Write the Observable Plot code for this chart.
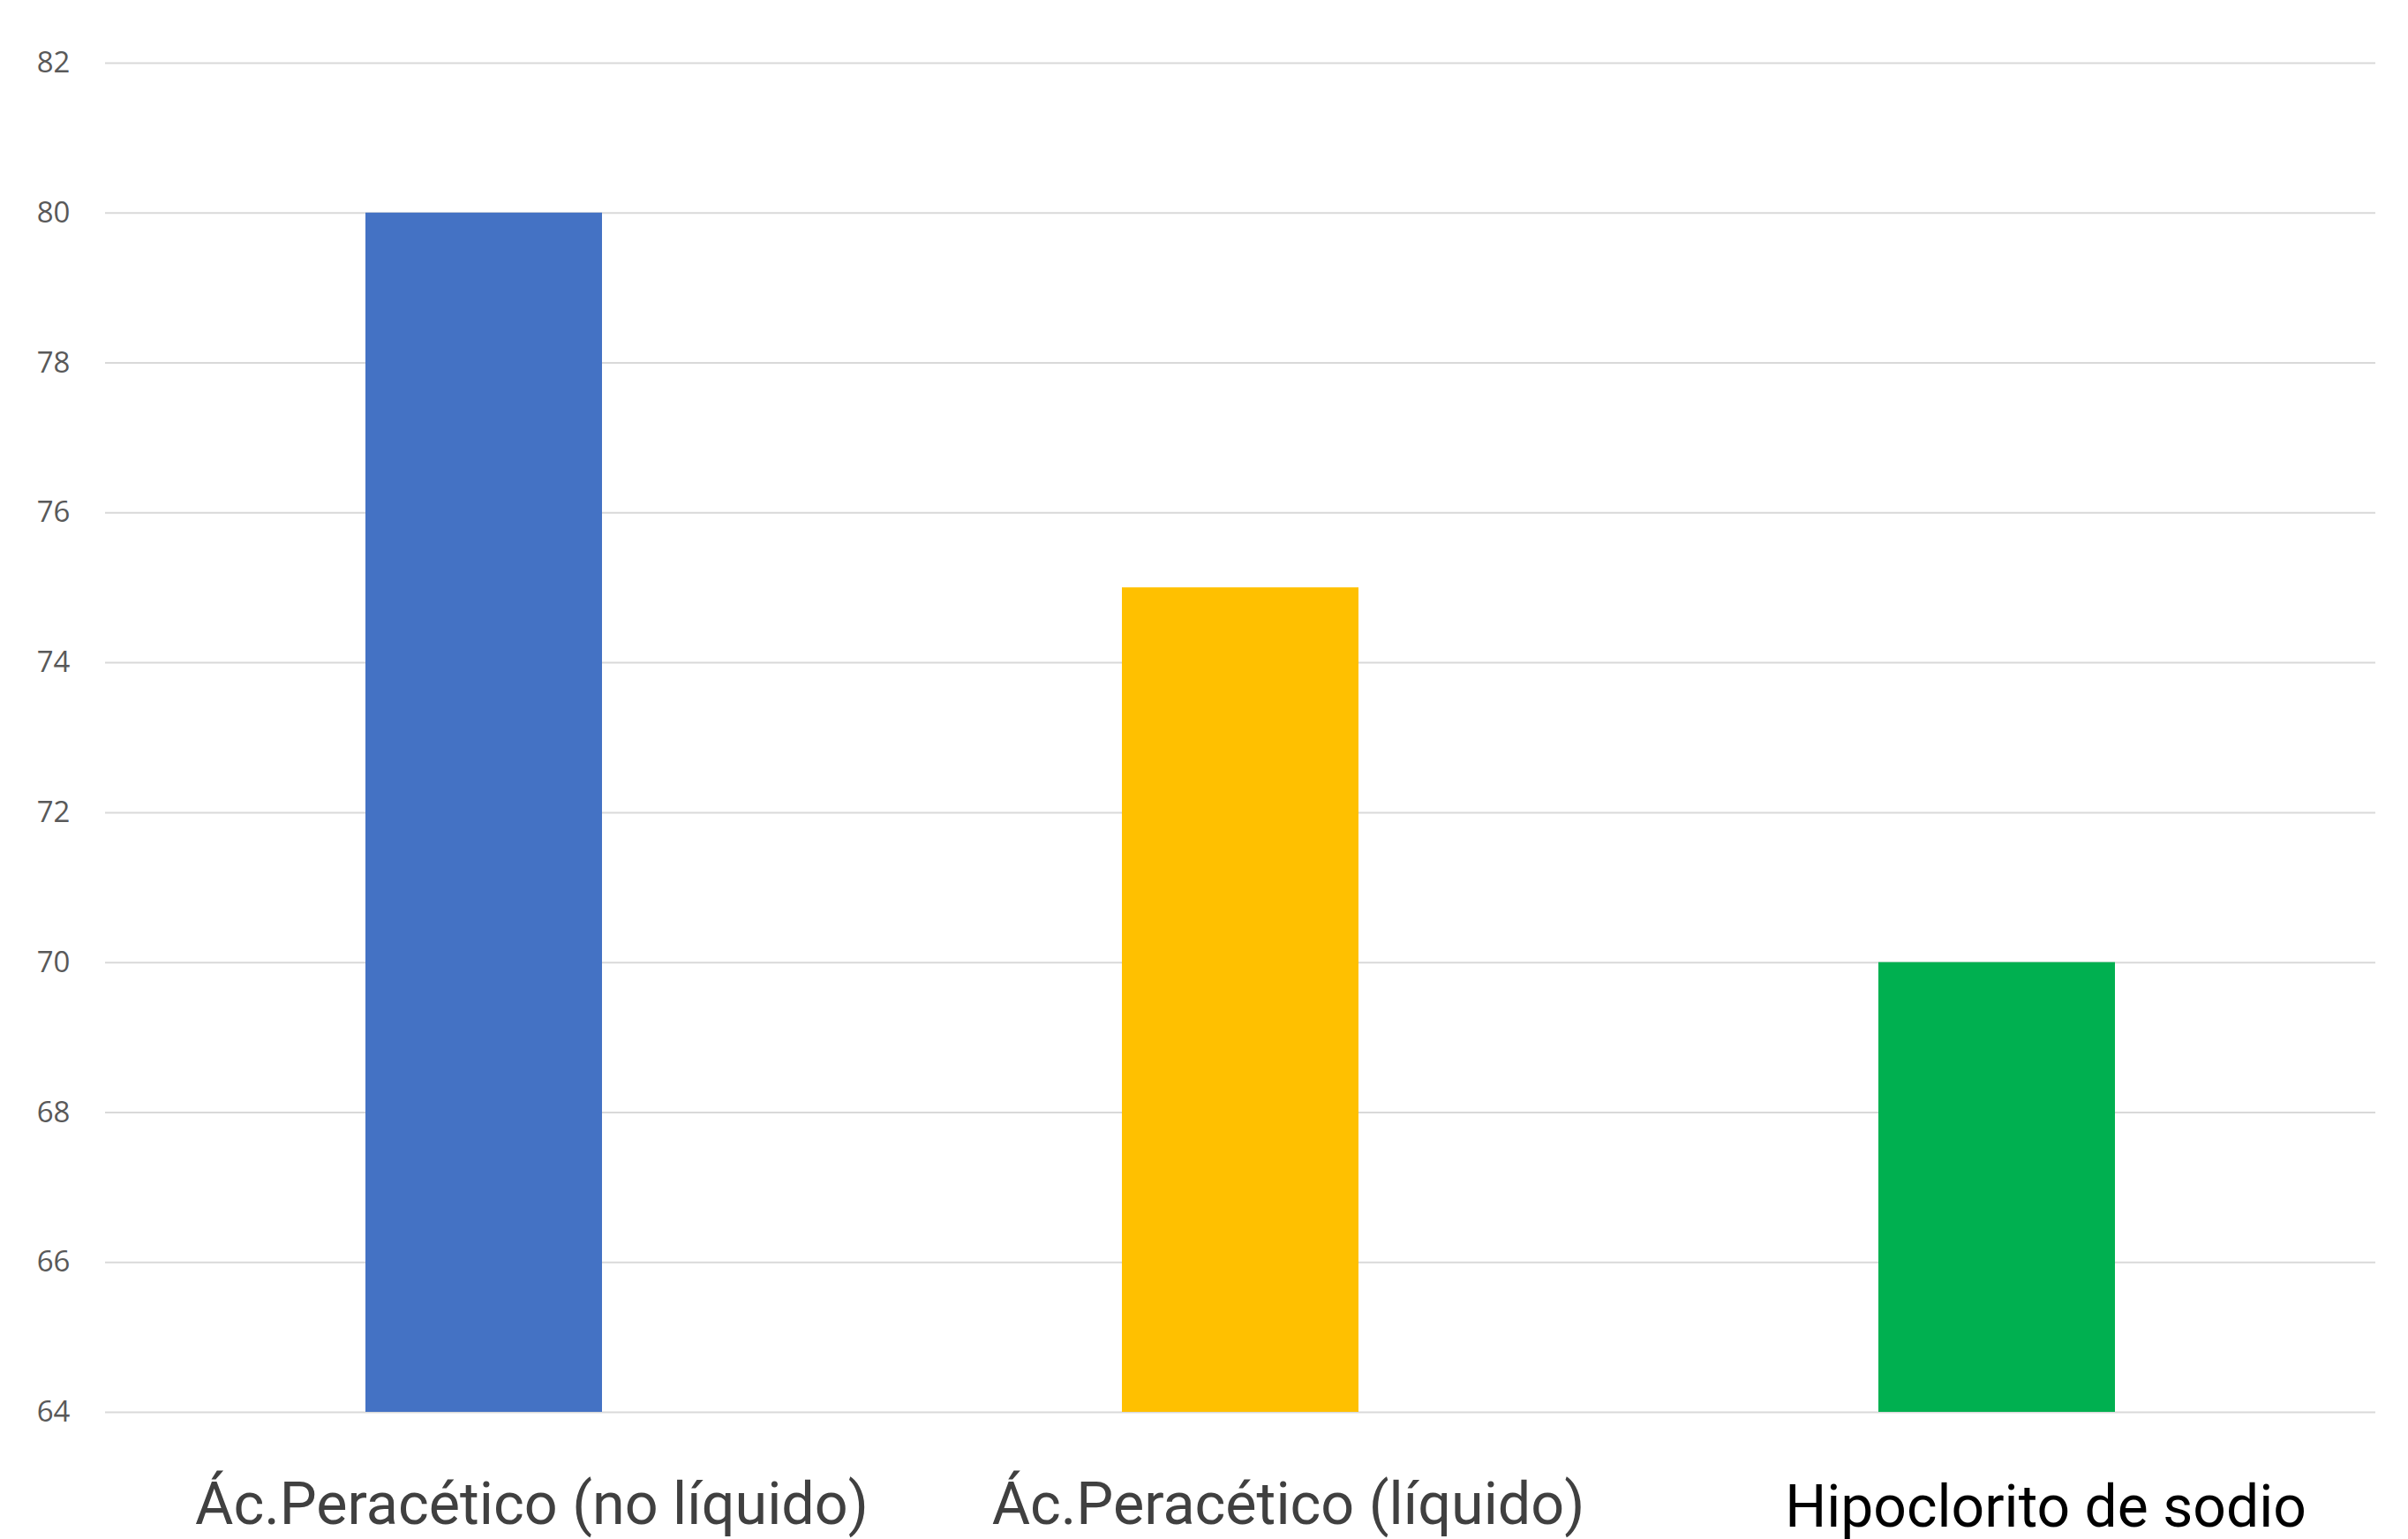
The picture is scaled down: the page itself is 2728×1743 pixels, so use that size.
<!DOCTYPE html>
<html>
<head>
<meta charset="utf-8">
<script src="https://cdn.jsdelivr.net/npm/d3@7"></script>
<script src="https://cdn.jsdelivr.net/npm/@observablehq/plot@0.6"></script>
<style>
  html, body { margin: 0; padding: 0; background: #fff; }
  #chart svg { display: block; }
</style>
</head>
<body>
<div id="chart"></div>
<script>
const categories = ["Ác.Peracético (no líquido)", "Ác.Peracético (líquido)", "Hipoclorito de sodio"];
const values = [80, 75, 70];
const colors = ["#4472C4", "#FFC000", "#00B050"];
const yDomain = [64, 82];
const yTicks = [64, 66, 68, 70, 72, 74, 76, 78, 80, 82];

const data = categories.map((c, i) => ({category: c, value: values[i], color: colors[i]}));
const grayLabels = categories.slice(0, 2);
const blackLabels = categories.slice(2);

const chart = Plot.plot({
  width: 2728,
  height: 1743,
  marginLeft: 119,
  marginRight: 37,
  marginTop: 71,
  marginBottom: 144,
  style: {background: "#fff", fontFamily: "'Open Sans', sans-serif"},
  x: {domain: categories, paddingInner: 0.687, paddingOuter: 0.3435, axis: null},
  y: {domain: yDomain, axis: null},
  marks: [
    Plot.ruleY(yTicks, {stroke: "#D9D9D9", strokeWidth: 2}),
    Plot.barY(data, {x: "category", y1: yDomain[0], y2: "value", fill: "color"}),
    Plot.axisY({ticks: yTicks, tickSize: 0, tickPadding: 40, label: null, fontSize: 33, fill: "#595959", fontFamily: "'Open Sans', sans-serif"}),
    Plot.text(grayLabels, {x: d => d, frameAnchor: "bottom", lineAnchor: "bottom", dy: 126, dx: 54, fontSize: 66.5, fill: "#404040", fontFamily: "Roboto, sans-serif"}),
    Plot.text(blackLabels, {x: d => d, frameAnchor: "bottom", lineAnchor: "bottom", dy: 129, dx: 55, fontSize: 66, fill: "#000000", fontFamily: "Roboto, sans-serif"})
  ]
});
document.getElementById("chart").appendChild(chart);
</script>
</body>
</html>
